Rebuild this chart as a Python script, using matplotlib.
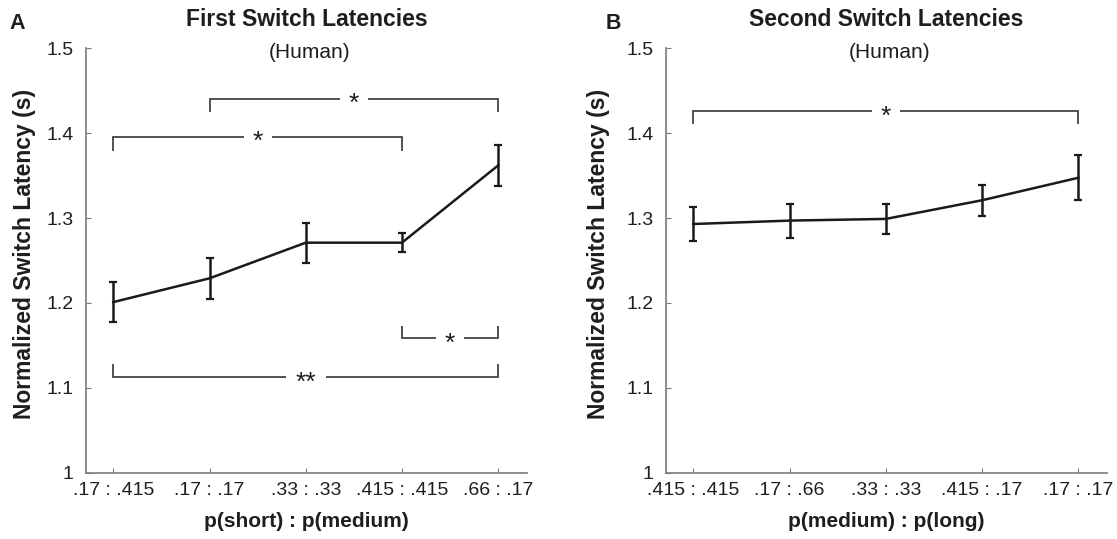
import matplotlib
matplotlib.use("Agg")
import matplotlib.pyplot as plt
import numpy as np

# ---------------- data ----------------
labels_a = [".17 : .415", ".17 : .17", ".33 : .33", ".415 : .415", ".66 : .17"]
mean_a = [1.201, 1.229, 1.271, 1.271, 1.362]
err_a = [0.024, 0.0245, 0.0235, 0.011, 0.024]

labels_b = [".415 : .415", ".17 : .66", ".33 : .33", ".415 : .17", ".17 : .17"]
mean_b = [1.293, 1.297, 1.299, 1.321, 1.3475]
err_b = [0.020, 0.020, 0.018, 0.018, 0.0265]

# significance brackets: (i, j, level, tip, text)
sig_a = [
    (1, 4, 1.4405, 1.4252, "*"),
    (0, 3, 1.3958, 1.3793, "*"),
    (3, 4, 1.1583, 1.1728, "*"),
    (0, 4, 1.1124, 1.1277, "**"),
]
sig_b = [
    (0, 4, 1.426, 1.4107, "*"),
]

titles = ["First Switch Latencies", "Second Switch Latencies"]
subtitle = "(Human)"
xlabels = ["p(short) : p(medium)", "p(medium) : p(long)"]
ylabel = "Normalized Switch Latency (s)"
panel_letters = ["A", "B"]
yticks = [1.0, 1.1, 1.2, 1.3, 1.4, 1.5]
yticklabels = ["1", "1.1", "1.2", "1.3", "1.4", "1.5"]

# ---------------- style ----------------
plt.rcParams['font.family'] = ['Liberation Sans', 'DejaVu Sans']
W, H = 1117, 539
fig = plt.figure(figsize=(W / 100, H / 100), dpi=100)

def px(x, y):
    return x / W, 1 - y / H

axes_px = [(86, 527), (666, 1107.3)]
top_px, bot_px = 48.3, 472.7
txt_col = "#1e1e1e"
spine_col = "#7a7a7a"

datasets = [(labels_a, mean_a, err_a, sig_a), (labels_b, mean_b, err_b, sig_b)]
title_cx = [306.5, 886.5]
ylabel_x = [25, 598.6]
letter_x = [9, 606]

for k, (labs, mean, err, sig) in enumerate(datasets):
    l, r = axes_px[k]
    ax = fig.add_axes([l / W, 1 - bot_px / H, (r - l) / W, (bot_px - top_px) / H])
    x = np.arange(len(labs))
    ax.errorbar(x, mean, yerr=err, color="#1a1a1a", lw=1.8, elinewidth=1.8,
                capsize=2.8, capthick=1.6, zorder=3)
    ax.set_xlim(-0.284, 4.30)
    ax.set_ylim(1.0, 1.5)
    ax.set_xticks(x)
    ax.set_xticklabels(labs)
    ax.set_yticks(yticks)
    ax.set_yticklabels(yticklabels)
    for s in ["top", "right"]:
        ax.spines[s].set_visible(False)
    for s in ["left", "bottom"]:
        ax.spines[s].set_color(spine_col)
        ax.spines[s].set_linewidth(1.2)
    ax.tick_params(axis="both", direction="in", length=3.5, width=0.8,
                   color=spine_col, labelsize=14, labelcolor=txt_col)
    ax.tick_params(axis="x", pad=7)
    ax.tick_params(axis="y", pad=9)

    # bracket gaps (pixels -> data units)
    upp = (4.30 + 0.284) / (r - l)
    for (i, j, lev, tip, t) in sig:
        c = (x[i] + x[j]) / 2
        g = (20 if len(t) > 1 else 14) * upp
        ax.plot([x[i], x[i], c - g], [tip, lev, lev], color="#333333", lw=1.2,
                solid_capstyle="butt", solid_joinstyle="miter")
        ax.plot([c + g, x[j], x[j]], [lev, lev, tip], color="#333333", lw=1.2,
                solid_capstyle="butt", solid_joinstyle="miter")
        ax.text(c, lev - 0.0065, t, ha="center", va="center", fontsize=19,
                color=txt_col)

    # texts
    fx, fy = px(title_cx[k], 26)
    fig.text(fx, fy, titles[k], ha="center", va="baseline", fontsize=16.5,
             fontweight="bold", color=txt_col)
    fx, fy = px(title_cx[k] + 3, 58.3)
    fig.text(fx, fy, subtitle, ha="center", va="baseline", fontsize=15,
             color=txt_col)
    fx, fy = px((l + r) / 2, 527)
    fig.text(fx, fy, xlabels[k], ha="center", va="baseline", fontsize=15,
             fontweight="bold", color=txt_col)
    fx, fy = px(ylabel_x[k], 253.5)
    fig.text(fx, fy, ylabel, ha="center", va="center", rotation=90,
             fontsize=16.5, fontweight="bold", color=txt_col)
    fx, fy = px(letter_x[k], 29)
    fig.text(fx, fy, panel_letters[k], ha="left", va="baseline", fontsize=15.5,
             fontweight="bold", color=txt_col)

fig.savefig("out.png", dpi=100)
